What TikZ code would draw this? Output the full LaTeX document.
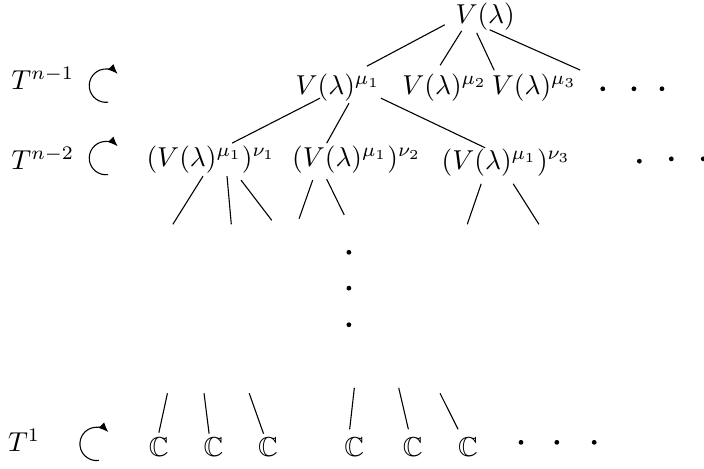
\documentclass[tikz,border=0pt]{standalone}
\usepackage{amssymb}
\usepackage{tikz}
\usetikzlibrary{arrows.meta}
\newcommand\turnradius{0.214}
\newcommand\dotsize{1.75pt}
\tikzstyle{term} = [anchor=base, inner sep=0pt, outer sep=0pt]
\tikzstyle{tlabel} = [anchor=base, inner sep=0pt, outer sep=0pt]
\tikzstyle{dotnode} = [circle, fill=black, inner sep=0pt, minimum size=\dotsize]
\tikzstyle{turn} = [-{Latex[length=3.6pt,width=2.9pt]}]

\begin{document}
\begin{tikzpicture}
    \useasboundingbox (0,0) rectangle (9.04,6.01);

            % the T labels and their turning arrows
            \node (Tn1) [tlabel] at (0.55,4.86) {$T^{n-1}$};
            \node (Tn2) [tlabel] at (0.55,3.83) {$T^{n-2}$};
            \node (T1) [tlabel] at (0.31,0.21) {$T^{1}$};
            \coordinate (rot1) at (1.36,4.91);
            \coordinate (rot2) at (1.36,3.98);
            \coordinate (rot3) at (1.24,0.31);
            \draw [turn] ([shift={(278:\turnradius)}]rot1) arc[start angle=278, end angle=45, radius=\turnradius];
            \draw [turn] ([shift={(278:\turnradius)}]rot2) arc[start angle=278, end angle=45, radius=\turnradius];
            \draw [turn] ([shift={(278:\turnradius)}]rot3) arc[start angle=278, end angle=45, radius=\turnradius];

            \node (root) [term] at (6.23,5.71) {$V(\lambda)$};
            \node (mu1) [term] at (4.34,4.80) {$V(\lambda)^{\mu_1}$};
            \node (mu2) [term] at (5.71,4.80) {$V(\lambda)^{\mu_2}$};
            \node (mu3) [term] at (6.86,4.80) {$V(\lambda)^{\mu_3}$};
            \node (nu1) [term] at (2.71,3.87) {$(V(\lambda)^{\mu_1})^{\nu_1}$};
            \node (nu2) [term] at (4.58,3.87) {$(V(\lambda)^{\mu_1})^{\nu_2}$};
            \node (nu3) [term] at (6.50,3.83) {$(V(\lambda)^{\mu_1})^{\nu_3}$};
            \node (c1) [term] at (2.04,0.15) {$\mathbb{C}$};
            \node (c2) [term] at (2.74,0.15) {$\mathbb{C}$};
            \node (c3) [term] at (3.44,0.15) {$\mathbb{C}$};
            \node (c4) [term] at (4.55,0.15) {$\mathbb{C}$};
            \node (c5) [term] at (5.30,0.15) {$\mathbb{C}$};
            \node (c6) [term] at (6.01,0.15) {$\mathbb{C}$};

            % dots
            \node (d11) [dotnode] at (7.74,4.87) {};
            \node (d12) [dotnode] at (8.14,4.87) {};
            \node (d13) [dotnode] at (8.50,4.87) {};
            \node (d21) [dotnode] at (8.21,3.94) {};
            \node (d22) [dotnode] at (8.62,3.97) {};
            \node (d23) [dotnode] at (9.03,3.97) {};
            \node (v1) [dotnode] at (4.48,2.77) {};
            \node (v2) [dotnode] at (4.48,2.31) {};
            \node (v3) [dotnode] at (4.48,1.84) {};
            \node (d31) [dotnode] at (6.69,0.33) {};
            \node (d32) [dotnode] at (7.15,0.33) {};
            \node (d33) [dotnode] at (7.63,0.33) {};

            % loose ends
            \coordinate (m4) at (7.45,5.11);
            \coordinate (n1a) at (2.22,3.13);
            \coordinate (n1b) at (2.97,3.13);
            \coordinate (n1c) at (3.49,3.18);
            \coordinate (n2a) at (3.84,3.20);
            \coordinate (n2b) at (4.42,3.25);
            \coordinate (n3a) at (6.00,3.13);
            \coordinate (n3b) at (6.92,3.13);
            \coordinate (up1) at (2.15,0.96);
            \coordinate (up2) at (2.62,0.96);
            \coordinate (up3) at (3.20,0.96);
            \coordinate (up4) at (4.55,1.03);
            \coordinate (up5) at (5.12,1.03);
            \coordinate (up6) at (5.65,0.96);

            \draw ([shift={(-5.2mm,-0.19mm)}]root.base) -- ([shift={(3.72mm,3.6mm)}]mu1.base);
            \draw ([shift={(-3.02mm,-0.96mm)}]root.base) -- ([shift={(-0.58mm,3.72mm)}]mu2.base);
            \draw ([shift={(-1.09mm,-1.22mm)}]root.base) -- ([shift={(-5.14mm,3.08mm)}]mu3.base);
            \draw ([shift={(0.58mm,-0.83mm)}]root.base) -- (m4);
            \draw ([shift={(-2.31mm,-0.51mm)}]mu1.base) -- ([shift={(2.7mm,3.02mm)}]nu1.base);
            \draw ([shift={(1.41mm,-1.16mm)}]mu1.base) -- ([shift={(-3.85mm,3.02mm)}]nu2.base);
            \draw ([shift={(5.52mm,-0.51mm)}]mu1.base) -- ([shift={(-2.7mm,2.82mm)}]nu3.base);
            \draw ([shift={(-1.03mm,-1.22mm)}]nu1.base) -- (n1a);
            \draw ([shift={(2.05mm,-1.22mm)}]nu1.base) -- (n1b);
            \draw ([shift={(3.85mm,-1.73mm)}]nu1.base) -- (n1c);
            \draw ([shift={(-5.65mm,-1.73mm)}]nu2.base) -- (n2a);
            \draw ([shift={(-3.85mm,-1.61mm)}]nu2.base) -- (n2b);
            \draw ([shift={(-3.21mm,-1.8mm)}]nu3.base) -- (n3a);
            \draw ([shift={(0.9mm,-1.8mm)}]nu3.base) -- (n3b);
            \draw (up1) -- ([shift={(0mm,3.04mm)}]c1.base);
            \draw (up2) -- ([shift={(-0.55mm,2.91mm)}]c2.base);
            \draw (up3) -- ([shift={(-0.56mm,2.91mm)}]c3.base);
            \draw (up4) -- ([shift={(-0.6mm,3.47mm)}]c4.base);
            \draw (up5) -- ([shift={(-0.56mm,3.47mm)}]c5.base);
            \draw (up6) -- ([shift={(-1.28mm,3.47mm)}]c6.base);

        \end{tikzpicture}
\end{document}
